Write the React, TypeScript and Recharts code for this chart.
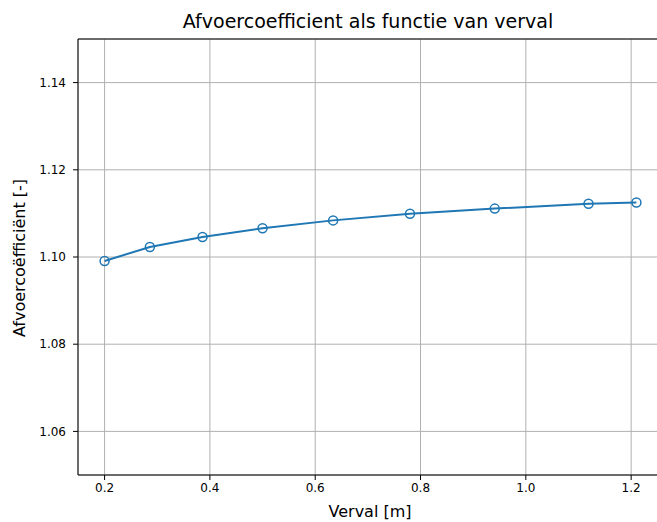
import { LineChart, Line, XAxis, YAxis, CartesianGrid, ReferenceLine } from 'recharts'

// verval [m] and afvoercoëfficiënt [-]
const verval = [0.2, 0.286, 0.386, 0.5, 0.634, 0.78, 0.941, 1.119, 1.21]
const coefficient = [1.0991, 1.1023, 1.1046, 1.1066, 1.1084, 1.1099, 1.1111, 1.1122, 1.1125]

const xTicks = [0.2, 0.4, 0.6, 0.8, 1.0, 1.2]
const yTicks = [1.06, 1.08, 1.1, 1.12, 1.14]

const data = verval.map((v, i) => ({ x: v, y: coefficient[i] }))

const font = '"DejaVu Sans", sans-serif'
const blue = '#1f77b4'

export default function App() {
  return (
    <div
      style={{
        position: 'absolute',
        left: 0,
        top: 0,
        width: 657,
        height: 522,
        overflow: 'hidden',
        background: '#fff',
        fontFamily: font,
      }}
    >
      <LineChart width={663} height={522} data={data} margin={{ top: 39, right: 0, bottom: 0, left: 0 }}>
        <CartesianGrid stroke="#b0b0b0" strokeWidth={1} />
        <XAxis
          dataKey="x"
          type="number"
          domain={[0.1495, 1.2605]}
          allowDataOverflow
          ticks={xTicks}
          tickFormatter={(v: number) => v.toFixed(1)}
          height={47}
          tickSize={5}
          tickMargin={3}
          stroke="#000"
          tick={{ fontSize: 12, fill: '#000', fontFamily: font }}
        />
        <YAxis
          type="number"
          domain={[1.05, 1.15]}
          allowDataOverflow
          ticks={yTicks}
          tickFormatter={(v: number) => v.toFixed(2)}
          width={78}
          tickSize={5}
          tickMargin={7}
          stroke="#000"
          tick={{ fontSize: 12, fill: '#000', fontFamily: font }}
        />
        <ReferenceLine y={1.15} stroke="#000" strokeWidth={1} />
        <Line
          type="linear"
          dataKey="y"
          stroke={blue}
          strokeWidth={2}
          dot={{ r: 4.5, stroke: blue, strokeWidth: 1.5, fill: 'none' }}
          isAnimationActive={false}
        />
      </LineChart>
      <div
        style={{
          position: 'absolute',
          left: 368 - 250,
          top: 9,
          width: 500,
          textAlign: 'center',
          fontSize: 19,
          lineHeight: '24px',
          color: '#000',
        }}
      >
        Afvoercoefficient als functie van verval
      </div>
      <div
        style={{
          position: 'absolute',
          left: 370 - 100,
          top: 502,
          width: 200,
          textAlign: 'center',
          fontSize: 16,
          lineHeight: '20px',
          color: '#000',
        }}
      >
        Verval [m]
      </div>
      <div
        style={{
          position: 'absolute',
          left: 20 - 120,
          top: 258 - 10,
          width: 240,
          textAlign: 'center',
          fontSize: 16,
          lineHeight: '20px',
          color: '#000',
          transform: 'rotate(-90deg)',
        }}
      >
        Afvoercoëfficiënt [-]
      </div>
    </div>
  )
}
